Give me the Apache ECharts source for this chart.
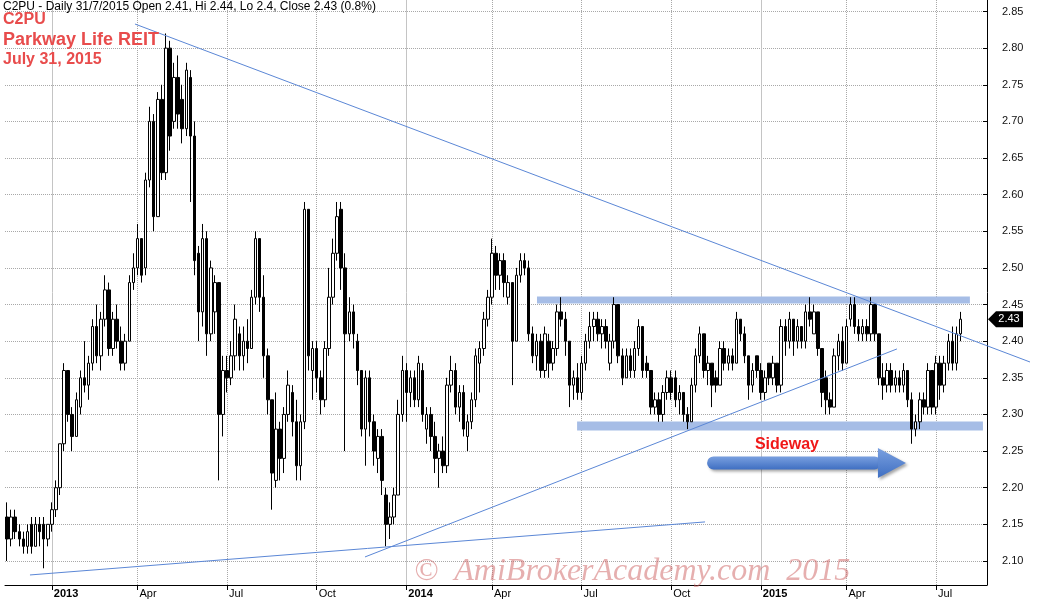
<!DOCTYPE html>
<html><head><meta charset="utf-8">
<script src="https://cdn.jsdelivr.net/npm/echarts@6/dist/echarts.min.js"></script>
<style>html,body{margin:0;padding:0;background:#fff}#c{width:1044px;height:603px}</style>
</head><body><div id="c"></div>
<script>
// ---- data (prices in cents, one candle per 3 trading days) ----
const lastPeriodStart = [2015, 7, 29];   // start date of the last candle (period ends 31/7/2015)
const stepWeekdays = 3;
const padCandles = 6;
const open = [
216,213,216,214,213,212,215,212,215,215,
213,215,217,220,226,236,230,227,231,235,
234,237,242,238,243,247,239,243,240,237,
240,248,250,254,250,262,270,257,273,263,
280,270,276,273,269,276,268,252,244,254,
241,244,248,230,236,235,238,241,238,240,
239,246,254,246,238,232,221,228,224,230,
233,229,223,229,258,236,239,235,232,239,
246,252,258,250,241,244,240,236,228,235,
229,224,227,219,215,216,219,230,236,233,
235,232,236,228,230,227,224,225,223,234,
236,231,233,227,229,232,237,239,243,246,
252,249,251,246,248,240,249,251,250,241,
238,240,236,240,237,239,244,243,240,234,
235,233,237,240,242,243,241,242,237,240,
245,238,235,238,236,239,242,237,236,231,
232,230,233,235,235,232,233,230,229,234,
238,241,236,237,235,234,239,237,238,237,
243,241,238,234,238,236,233,237,235,237,
234,242,240,243,240,242,240,244,241,244,
239,235,232,231,238,240,237,243,245,242,
241,242,241,245,241,235,234,236,234,235,
234,236,232,228,229,232,231,236,231,237,
234,237,240,237,241];
const high = [
218,217,217,215,214,215,216,216,216,216,
215,218,221,226,237,236,231,233,236,240,
238,243,245,244,249,248,244,245,242,241,
249,252,256,254,263,272,271,274,275,282,
281,278,279,275,278,277,270,253,256,255,
251,249,248,238,238,240,245,242,242,243,
247,255,254,249,239,232,233,229,231,236,
234,232,230,259,258,240,240,236,240,250,
254,259,259,252,246,245,241,236,236,236,
230,228,228,220,218,220,232,238,237,236,
236,238,237,231,231,229,226,227,235,238,
237,234,234,230,233,239,240,244,247,254,
253,252,252,249,248,250,252,252,251,242,
241,241,242,241,240,245,246,244,240,236,
237,238,241,244,244,244,243,243,241,246,
245,239,239,239,240,243,242,238,236,233,
233,234,236,236,236,234,233,231,235,239,
242,241,238,237,236,240,240,239,239,244,
243,242,238,237,238,237,236,237,238,237,
243,243,244,243,243,242,245,246,245,244,
239,236,233,239,241,242,243,246,246,243,
243,243,246,245,241,237,237,237,236,236,
237,236,233,230,233,233,237,236,238,238,
238,241,242,242,244];
const low = [
210,212,213,212,211,211,211,212,212,209,
212,214,216,219,225,229,225,227,230,233,
232,236,237,236,242,238,238,239,236,236,
240,247,249,248,249,261,255,257,262,262,
266,269,269,267,268,259,249,240,242,238,
240,241,221,227,233,234,236,236,236,237,
239,245,244,235,230,217,220,221,222,229,
227,221,221,228,236,232,233,230,231,238,
245,251,247,225,240,239,234,227,223,227,
223,222,219,212,213,215,219,229,229,231,
231,231,229,226,225,222,220,222,222,233,
230,229,227,225,228,231,233,238,242,245,
247,247,246,245,234,240,248,249,240,237,
236,235,235,235,236,238,242,238,231,232,
232,232,236,239,240,240,239,239,236,239,
237,234,235,235,235,238,235,235,230,230,
229,229,232,232,231,230,229,228,229,233,
237,235,234,231,233,234,236,236,236,237,
240,237,232,233,235,232,232,234,234,233,
233,238,239,238,239,239,239,242,241,238,
231,230,230,231,236,236,237,242,241,240,
240,240,240,240,234,232,233,233,233,233,
233,231,226,227,228,230,230,230,230,232,
233,236,236,236,240];
const close = [
213,216,214,213,212,214,212,215,214,213,
215,217,220,226,236,230,227,232,235,234,
237,242,238,243,247,239,243,240,237,240,
248,250,254,249,262,270,257,273,263,280,
268,276,271,269,277,268,251,244,254,241,
250,248,230,236,235,238,243,238,240,239,
246,254,246,238,232,222,228,224,230,234,
229,223,229,258,238,239,235,232,239,246,
252,257,250,241,244,241,236,228,235,229,
225,227,221,215,216,219,230,236,233,235,
232,237,230,230,227,224,225,223,234,236,
231,233,228,229,232,238,239,243,246,252,
249,251,248,248,240,249,251,250,241,238,
240,236,241,237,239,244,243,240,234,235,
233,237,240,242,243,241,242,240,240,245,
238,235,238,236,239,242,236,236,231,232,
230,233,235,233,232,233,230,229,234,238,
241,236,237,234,234,239,237,238,237,243,
241,238,234,236,236,233,235,235,237,234,
242,240,243,240,242,240,244,243,244,239,
233,232,231,238,240,237,242,245,242,241,
242,241,245,241,235,234,236,234,235,234,
236,232,228,229,232,231,236,231,237,234,
237,240,237,241,243];
const quarterNames = ['', 'Apr', 'Jul', 'Oct'];
const headerText = 'C2PU - Daily 31/7/2015 Open 2.41, Hi 2.44, Lo 2.4, Close 2.43 (0.8%)';
const titleLines = ['C2PU', 'Parkway Life REIT', 'July 31, 2015'];
// annotations drawn on the chart: [candle index, price]
const trendLines = [
  [[31.4, 2.8329], [251.05, 2.3716]],
  [[5.63, 2.0809], [171.3, 2.1533]],
  [[87.85, 2.1055], [218.4, 2.3894]]
];
const levelBands = [
  {from: 130.06, to: 236.3, price: 2.4563, width: 7},
  {from: 139.9, to: 239.5, price: 2.2843, width: 9}
];
const sidewayArrow = {from: 171.8, to: 220.6, price: 2.2338};
const sidewayLabel = {text: 'Sideway', at: 191.4, price: 2.2583};

// ---- categories (trading-day periods) ----
function addWeekdays(d, n) {
  const r = new Date(d.getTime());
  const s = n < 0 ? -1 : 1; let k = Math.abs(n);
  while (k > 0) { r.setDate(r.getDate() + s); const w = r.getDay(); if (w !== 0 && w !== 6) k--; }
  return r;
}
const N = open.length;
const lastStart = new Date(lastPeriodStart[0], lastPeriodStart[1] - 1, lastPeriodStart[2]);
const cats = [];
for (let i = 0; i < N + padCandles; i++) {
  const d = addWeekdays(lastStart, (i - (N - 1)) * stepWeekdays);
  const mm = String(d.getMonth() + 1).padStart(2, '0'), dd = String(d.getDate()).padStart(2, '0');
  cats.push(d.getFullYear() + '-' + mm + '-' + dd);
}
const monthOf = s => +s.slice(5, 7);
const isQ = cats.map((s, i) => i > 0 && monthOf(s) !== monthOf(cats[i - 1]) && (monthOf(s) - 1) % 3 === 0);
const ohlc = open.map((o, i) => [o / 100, close[i] / 100, low[i] / 100, high[i] / 100]);

const vLines = [];
cats.forEach((s, i) => {
  if (!isQ[i]) return;
  const yr = monthOf(s) === 1;
  vLines.push({xAxis: s, lineStyle: {type: yr ? 'solid' : 'dotted', color: yr ? '#c4c4c4' : '#a8a8a8', width: 1}});
});

const chart = echarts.init(document.getElementById('c'), null, {renderer: 'canvas'});
chart.setOption({
  animation: false,
  backgroundColor: '#ffffff',
  grid: {left: 5, right: 57, top: 0, bottom: 18, containLabel: false},
  xAxis: {
    type: 'category', data: cats, boundaryGap: true,
    axisLine: {show: true, lineStyle: {color: '#000', width: 1}},
    axisTick: {show: true, alignWithLabel: true, interval: i => isQ[i], length: 5, lineStyle: {color: '#000'}},
    axisLabel: {
      interval: i => isQ[i], align: 'left', margin: 3, padding: [0, 0, 0, 2],
      fontFamily: '"Liberation Sans Narrow", "Liberation Sans", Arial, sans-serif', fontSize: 11, color: '#000',
      formatter: v => {
        const m = monthOf(v);
        return m === 1 ? '{y|' + v.slice(0, 4) + '}' : '{m|' + quarterNames[(m - 1) / 3] + '}';
      },
      rich: {
        y: {fontWeight: 'bold', fontSize: 11, color: '#000', fontFamily: '"Liberation Sans Narrow", "Liberation Sans", Arial'},
        m: {fontSize: 11, color: '#000', fontFamily: '"Liberation Sans Narrow", "Liberation Sans", Arial'}
      }
    },
    splitLine: {show: false}
  },
  yAxis: {
    type: 'value', position: 'right', scale: true,
    min: 2.0672, max: 2.8657, minInterval: 0.05, maxInterval: 0.05,
    axisLine: {show: true, lineStyle: {color: '#000', width: 1}},
    axisTick: {show: true, inside: true, length: 4, lineStyle: {color: '#000'}},
    axisLabel: {formatter: v => v.toFixed(2), color: '#111', fontSize: 11, margin: 15,
      fontFamily: '"Liberation Sans", Arial, sans-serif', showMinLabel: false, showMaxLabel: false},
    splitLine: {show: true, showMinLine: false, showMaxLine: false, lineStyle: {type: 'dotted', color: '#a8a8a8', width: 1}}
  },
  series: [{
    type: 'candlestick', data: ohlc, barWidth: 3, z: 2,
    itemStyle: {color: '#ffffff', color0: '#000000', borderColor: '#000000', borderColor0: '#000000', borderWidth: 1},
    markLine: {silent: true, z: 1, symbol: ['none', 'none'], label: {show: false}, animation: false, data: vLines}
  }]
});

// ---- annotations via the chart's own scales ----
const xa = chart.convertToPixel({xAxisIndex: 0}, 0), xb = chart.convertToPixel({xAxisIndex: 0}, 1);
const X = i => xa + (xb - xa) * i;
const Y = p => chart.convertToPixel({yAxisIndex: 0}, p);
const g = [];
levelBands.forEach(b => g.push({type: 'line', z: 1, silent: true,
  shape: {x1: X(b.from), y1: Y(b.price), x2: X(b.to), y2: Y(b.price)},
  style: {stroke: '#a6bde6', lineWidth: b.width}}));
trendLines.forEach(t => g.push({type: 'line', z: 3, silent: true,
  shape: {x1: X(t[0][0]), y1: Y(t[0][1]), x2: X(t[1][0]), y2: Y(t[1][1])},
  style: {stroke: '#5b87d6', lineWidth: 1}}));
const ax0 = X(sidewayArrow.from), ax1 = X(sidewayArrow.to), ay = Y(sidewayArrow.price);
const grad = new echarts.graphic.LinearGradient(0, 0, 0, 1, [{offset: 0, color: '#7aa0e0'}, {offset: 1, color: '#3f6fc2'}]);
g.push({type: 'rect', z: 4, silent: true, shape: {x: ax0, y: ay - 6.5, width: ax1 - 27 - ax0 + 2, height: 13, r: 6.5},
  style: {fill: grad, shadowBlur: 3, shadowColor: 'rgba(0,0,0,0.35)', shadowOffsetX: 2, shadowOffsetY: 2}});
g.push({type: 'polygon', z: 4, silent: true, shape: {points: [[ax1 - 28, ay - 15], [ax1, ay], [ax1 - 28, ay + 15]]},
  style: {fill: grad, shadowBlur: 3, shadowColor: 'rgba(0,0,0,0.35)', shadowOffsetX: 2, shadowOffsetY: 2}});
g.push({type: 'text', z: 5, silent: true, x: X(sidewayLabel.at), y: Y(sidewayLabel.price),
  style: {text: sidewayLabel.text, fill: '#f01818', font: 'bold 16px "Liberation Sans", Arial', align: 'center', verticalAlign: 'middle'}});
// last price tag
const lp = close[N - 1] / 100, ly = Y(lp);
g.push({type: 'polygon', z: 6, silent: true,
  shape: {points: [[988, ly], [996, ly - 8], [1023, ly - 8], [1023, ly + 8], [996, ly + 8]]}, style: {fill: '#000'}});
g.push({type: 'text', z: 7, silent: true, x: 1009, y: ly,
  style: {text: lp.toFixed(2), fill: '#fff', font: '11px "Liberation Sans", Arial', align: 'center', verticalAlign: 'middle'}});
// header texts
g.push({type: 'text', z: 8, silent: true, x: 3, y: 1, style: {text: headerText, fill: '#000', font: '12px "Liberation Sans", Arial', verticalAlign: 'top'}});
g.push({type: 'text', z: 8, silent: true, x: 3, y: 12, style: {text: titleLines[0], fill: '#e84c4c', font: 'bold 16px "Liberation Sans", Arial', verticalAlign: 'top'}});
g.push({type: 'text', z: 8, silent: true, x: 3, y: 31, style: {text: titleLines[1], fill: '#e84c4c', font: 'bold 18px "Liberation Sans", Arial', verticalAlign: 'top'}});
g.push({type: 'text', z: 8, silent: true, x: 3, y: 52, style: {text: titleLines[2], fill: '#e84c4c', font: 'bold 16px "Liberation Sans", Arial', verticalAlign: 'top'}});
// watermark
g.push({type: 'text', z: 9, silent: true, x: 414, y: 572,
  style: {text: '\u00A9  AmiBrokerAcademy.com  2015', fill: 'rgba(205,95,95,0.5)', font: 'italic 32px "Liberation Serif", "DejaVu Serif", serif', verticalAlign: 'middle'}});
chart.setOption({graphic: g});
</script></body></html>
